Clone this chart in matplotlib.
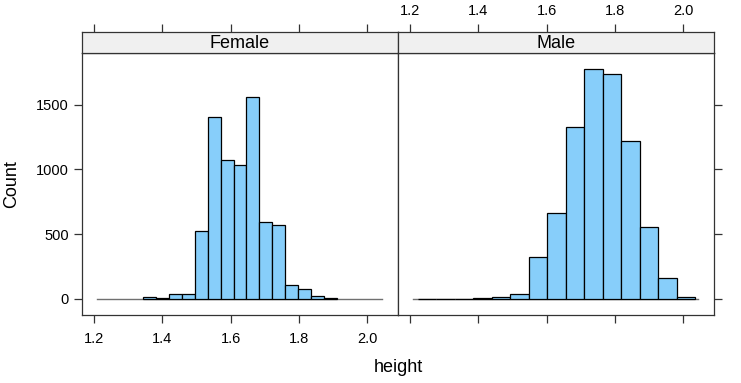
import numpy as np
import matplotlib
matplotlib.use("Agg")
import matplotlib.pyplot as plt

plt.rcParams["font.family"] = ["Liberation Sans", "DejaVu Sans"]

# histogram data
panels = ["Female", "Male"]
female_breaks = np.linspace(1.3443, 1.9104, 16)
female_counts = [13, 8, 41, 41, 522, 1408, 1070, 1037, 1562, 592, 569, 105, 77, 21, 10]
male_breaks = np.linspace(1.2234, 2.0350, 16)
male_counts = [1, 2, 3, 5, 13, 36, 327, 661, 1330, 1776, 1734, 1217, 558, 160, 13]
height_range = [1.2098, 2.0440]

x_ticks = [1.2, 1.4, 1.6, 1.8, 2.0]
y_ticks = [0, 500, 1000, 1500]
xlim = (1.165, 2.090)
ylim = (-124, 1902)

W, H = 741, 383
fig = plt.figure(figsize=(W / 100, H / 100), dpi=100)

def fx(px):
    return px / W

def fy(py):
    return 1 - py / H

panel_left = [82, 398]
panel_w = 316
top_strip, bot_strip, bot_panel = 31.5, 52.7, 315

fill = "#87CEFA"
border = "#333333"
tick_len = 6

data = [(female_breaks, female_counts), (male_breaks, male_counts)]

for i, name in enumerate(panels):
    x0 = panel_left[i]
    ax = fig.add_axes([fx(x0), fy(bot_panel), fx(panel_w), (bot_panel - bot_strip) / H])
    st = fig.add_axes([fx(x0), fy(bot_strip), fx(panel_w), (bot_strip - top_strip) / H])

    breaks, counts = data[i]
    ax.plot(height_range, [0, 0], color="#707070", lw=1.0, zorder=1)
    ax.bar(breaks[:-1], counts, width=np.diff(breaks), align="edge",
           color=fill, edgecolor="black", linewidth=0.9, zorder=2)
    ax.set_xlim(*xlim)
    ax.set_ylim(*ylim)

    for a in (ax, st):
        for s in a.spines.values():
            s.set_color(border)
            s.set_linewidth(0.9)

    st.set_facecolor("#f0f0f0")
    st.set_xlim(*xlim)
    st.set_ylim(0, 1)
    st.set_yticks([])
    st.text(0.5, 0.45, name, transform=st.transAxes, ha="center", va="center",
            fontsize=13)

    ax.tick_params(direction="out", length=tick_len, width=0.9, color=border,
                   labelsize=10.5)
    ax.tick_params(axis="x", pad=6)
    st.tick_params(direction="out", length=tick_len, width=0.9, color=border,
                   labelsize=10.5)
    st.xaxis.set_ticks_position("top")
    st.set_xticks(x_ticks)
    ax.set_xticks(x_ticks)
    ax.set_yticks(y_ticks)

    if i == 0:
        ax.set_xticklabels([f"{t:.1f}" for t in x_ticks])
        st.set_xticklabels([])
        ax.yaxis.set_ticks_position("left")
        ax.set_yticklabels([str(t) for t in y_ticks])
    else:
        ax.set_xticklabels([])
        st.set_xticklabels([f"{t:.1f}" for t in x_ticks])
        ax.yaxis.set_ticks_position("right")
        ax.set_yticklabels([])

fig.text(fx(398), fy(367), "height", ha="center", va="center", fontsize=13)
fig.text(fx(12), fy(184), "Count", ha="center", va="center", rotation=90,
         fontsize=13)

fig.savefig("out.png", dpi=100)
